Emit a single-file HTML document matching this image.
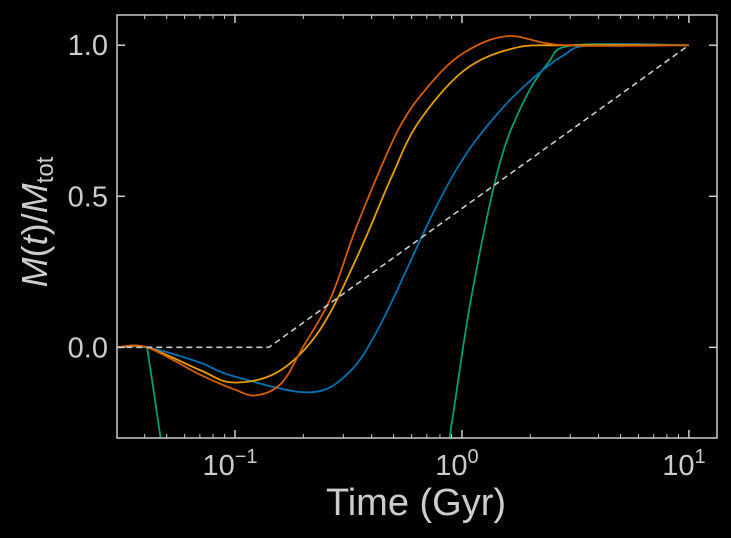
<!DOCTYPE html>
<html><head><meta charset="utf-8"><style>
html,body{margin:0;padding:0;background:#000;}
svg{display:block;font-family:"Liberation Sans","DejaVu Sans",sans-serif;}
</style></head><body>
<svg id="chart" width="731" height="538" viewBox="0 0 731 538">
<defs><clipPath id="clip"><rect x="117" y="15" width="600" height="423"/></clipPath></defs>
<rect x="0" y="0" width="731" height="538" fill="#000"/>
<g id="series" clip-path="url(#clip)"></g>
<g id="axes"></g>
</svg>
<script>
const xTicks = [0.1, 1, 10];
const xTickExp = ["−1", "0", "1"];
const yTicks = [0, 0.5, 1.0];
const yTickLabels = ["0.0", "0.5", "1.0"];
const blueT = [0.03,0.041,0.07,0.096,0.21,0.315,0.44,0.73,1.02,1.44,2.01,2.81,3.7,10];
const blueV = [0,0,-0.05,-0.093,-0.149,-0.086,0.079,0.43,0.629,0.775,0.884,0.967,1,1];
const greenT = [0.041,0.047,0.05,0.86,0.885,0.92,1.1,1.44,1.82,2.39,3.11,10];
const greenV = [0,-0.3,-0.45,-0.45,-0.3,-0.209,0.166,0.586,0.795,0.94,1,1];
const redT = [0.03,0.041,0.07,0.1,0.124,0.16,0.199,0.265,0.348,0.523,0.73,1.02,1.59,2.81,10];
const redV = [0,0,-0.09,-0.14,-0.159,-0.119,0,0.166,0.411,0.719,0.874,0.975,1.03,1.0,1];
const orangeT = [0.03,0.041,0.07,0.096,0.144,0.201,0.265,0.37,0.487,0.64,1.02,1.69,2.81,10];
const orangeV = [0,0,-0.075,-0.116,-0.093,-0.01,0.12,0.35,0.56,0.742,0.916,0.99,1,1];
const dashT = [0.03,0.141,10];
const dashV = [0,0,1];

const X0=117,X1=717,Y0=15,Y1=438;
const LMIN=Math.log10(0.0302),LMAX=Math.log10(13.3);
const YMIN=-0.3,YMAX=1.1;
function sx(t){return X0+(Math.log10(t)-LMIN)/(LMAX-LMIN)*(X1-X0);}
function sy(v){return Y1-(v-YMIN)/(YMAX-YMIN)*(Y1-Y0);}
const NS="http://www.w3.org/2000/svg";
function mk(tag,attrs,parent){const e=document.createElementNS(NS,tag);for(const k in attrs)e.setAttribute(k,attrs[k]);parent.appendChild(e);return e;}
function smooth(pts){
  let d="M"+pts[0][0]+","+pts[0][1];
  for(let i=0;i<pts.length-1;i++){
    const p0=pts[Math.max(0,i-1)],p1=pts[i],p2=pts[i+1],p3=pts[Math.min(pts.length-1,i+2)];
    const c1=[p1[0]+(p2[0]-p0[0])/6,p1[1]+(p2[1]-p0[1])/6];
    const c2=[p2[0]-(p3[0]-p1[0])/6,p2[1]-(p3[1]-p1[1])/6];
    d+=" C"+c1[0]+","+c1[1]+" "+c2[0]+","+c2[1]+" "+p2[0]+","+p2[1];
  }
  return d;
}
const sg=document.getElementById("series");
function line(T,V,color,name,dash){
  const pts=T.map((t,i)=>[sx(t),sy(V[i])]);
  const p=mk("path",{d:dash?("M"+pts.map(p=>p.join(",")).join(" L")):smooth(pts),fill:"none",stroke:color,"stroke-width":dash?1.6:1.8},sg);
  if(dash)p.setAttribute("stroke-dasharray","6,4");
  
  
}
line(greenT,greenV,"#009E73","series-green");
line(blueT,blueV,"#0072B2","series-blue");
line(orangeT,orangeV,"#E69F00","series-orange");
line(redT,redV,"#D55E00","series-dark-orange");
line(dashT,dashV,"#cccccc","series-linear-reference",true);

const ax=document.getElementById("axes");
const C="#cccccc";
const fr=mk("rect",{x:X0,y:Y0,width:X1-X0,height:Y1-Y0,fill:"none",stroke:C,"stroke-width":1.5},ax);


for(let e=-2;e<=1;e++){for(let m=2;m<=9;m++){const t=m*Math.pow(10,e);const x=sx(t);if(x<X0||x>X1)continue;
  mk("line",{x1:x,y1:Y1,x2:x,y2:Y1-4,stroke:C,"stroke-width":1},ax);
  mk("line",{x1:x,y1:Y0,x2:x,y2:Y0+4,stroke:C,"stroke-width":1},ax);}}
xTicks.forEach((t,i)=>{const x=sx(t);
  mk("line",{x1:x,y1:Y1,x2:x,y2:Y1-8,stroke:C,"stroke-width":1.5},ax);
  mk("line",{x1:x,y1:Y0,x2:x,y2:Y0+8,stroke:C,"stroke-width":1.5},ax);
  const tx=mk("text",{x:x-5,y:Y1+37,fill:C,"font-size":29,"text-anchor":"middle"},ax);
  
  
  tx.textContent="10";
  const sp=mk("tspan",{dy:-12,"font-size":20},tx);sp.textContent=xTickExp[i];
});
yTicks.forEach((v,i)=>{const y=sy(v);
  mk("line",{x1:X0,y1:y,x2:X0+8,y2:y,stroke:C,"stroke-width":1.5},ax);
  mk("line",{x1:X1,y1:y,x2:X1-8,y2:y,stroke:C,"stroke-width":1.5},ax);
  const tx=mk("text",{x:X0-9,y:y+10,fill:C,"font-size":29,"text-anchor":"end"},ax);
  
  
  tx.textContent=yTickLabels[i];
});
const xl=mk("text",{x:416,y:515,fill:C,"font-size":38,"text-anchor":"middle"},ax);


xl.textContent="Time (Gyr)";
const yl=mk("text",{x:0,y:0,fill:C,"font-size":36,"text-anchor":"middle",transform:"translate(47,222) rotate(-90)"},ax);


const a=mk("tspan",{"font-style":"italic"},yl);a.textContent="M";
const b=mk("tspan",{},yl);b.textContent="(";
const c=mk("tspan",{"font-style":"italic"},yl);c.textContent="t";
const d=mk("tspan",{},yl);d.textContent=")/";
const e=mk("tspan",{"font-style":"italic"},yl);e.textContent="M";
const f=mk("tspan",{"font-size":24,dy:6},yl);f.textContent="tot";
</script>
</body></html>
